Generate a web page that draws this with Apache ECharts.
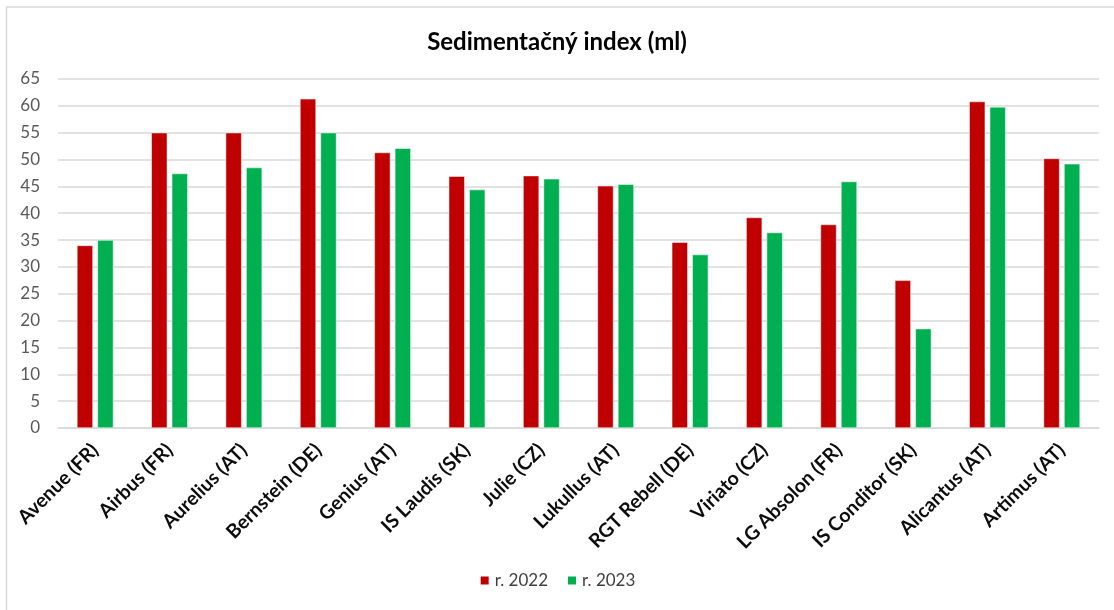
<!DOCTYPE html>
<html>
<head>
<meta charset="utf-8">
<script src="https://cdn.jsdelivr.net/npm/echarts@6/dist/echarts.min.js"></script>
<style>
  html, body { margin: 0; padding: 0; background: #fff; }
  #chart { width: 1114px; height: 610px; }
</style>
</head>
<body>
<div id="chart"></div>
<script>
const categories = [
    'Avenue (FR)', 'Airbus (FR)', 'Aurelius (AT)', 'Bernstein (DE)', 'Genius (AT)',
    'IS Laudis (SK)', 'Julie (CZ)', 'Lukullus (AT)', 'RGT Rebell (DE)', 'Viriato (CZ)',
    'LG Absolon (FR)', 'IS Conditor (SK)', 'Alicantus (AT)', 'Artimus (AT)'
];
const values2022 = [34, 55, 55, 61.3, 51.3, 46.9, 47, 45.1, 34.6, 39.2, 37.9, 27.5, 60.8, 50.2];
const values2023 = [35, 47.4, 48.5, 55, 52.1, 44.4, 46.4, 45.4, 32.3, 36.4, 45.9, 18.5, 59.8, 49.2];
const seriesNames = ['r. 2022', 'r. 2023'];
const yMin = 0, yMax = 65, yStep = 5;

const fontFamily = 'Lato, "Noto Sans", sans-serif';
const chart = echarts.init(document.getElementById('chart'), null, { renderer: 'canvas' });

const option = {
    backgroundColor: '#fff',
    animation: false,
    textStyle: { fontFamily },
    title: {
        text: 'Sedimentačný index (ml)',
        left: 'center',
        top: 25,
        textStyle: { fontSize: 24, fontWeight: 'bold', color: '#000', fontFamily }
    },
    graphic: [{
        type: 'rect',
        shape: { x: 6.5, y: 7, width: 2000, height: 2000 },
        style: { fill: 'none', stroke: '#d9d9d9', lineWidth: 1.5 },
        silent: true
    }],
    legend: {
        data: seriesNames,
        bottom: 16,
        left: 'center',
        icon: 'rect',
        itemWidth: 10,
        itemHeight: 10,
        itemGap: 18,
        textStyle: { fontSize: 17, color: '#404040', fontFamily }
    },
    grid: { left: 58, right: 15, top: 79, bottom: 182, containLabel: false },
    xAxis: {
        type: 'category',
        data: categories,
        axisTick: { show: false },
        axisLine: { lineStyle: { color: '#d9d9d9', width: 1.5 } },
        axisLabel: {
            rotate: 45,
            interval: 0,
            margin: 19,
            fontSize: 19.5,
            fontWeight: 'bold',
            color: '#0d0d0d',
            fontFamily
        }
    },
    yAxis: {
        type: 'value',
        min: yMin,
        max: yMax,
        interval: yStep,
        axisLine: { show: false },
        axisTick: { show: false },
        axisLabel: { fontSize: 17, color: '#595959', margin: 18, fontFamily },
        splitLine: { lineStyle: { color: '#d9d9d9', width: 1.5 } }
    },
    series: [
        {
            name: seriesNames[0],
            type: 'bar',
            data: values2022,
            barWidth: 16,
            barGap: '28%',
            itemStyle: { color: '#c00000', borderColor: '#fff', borderWidth: 0.5 }
        },
        {
            name: seriesNames[1],
            type: 'bar',
            data: values2023,
            barWidth: 16,
            itemStyle: { color: '#00b050', borderColor: '#fff', borderWidth: 0.5 }
        }
    ]
};

chart.setOption(option);
window.addEventListener('resize', () => chart.resize());
</script>
</body>
</html>
